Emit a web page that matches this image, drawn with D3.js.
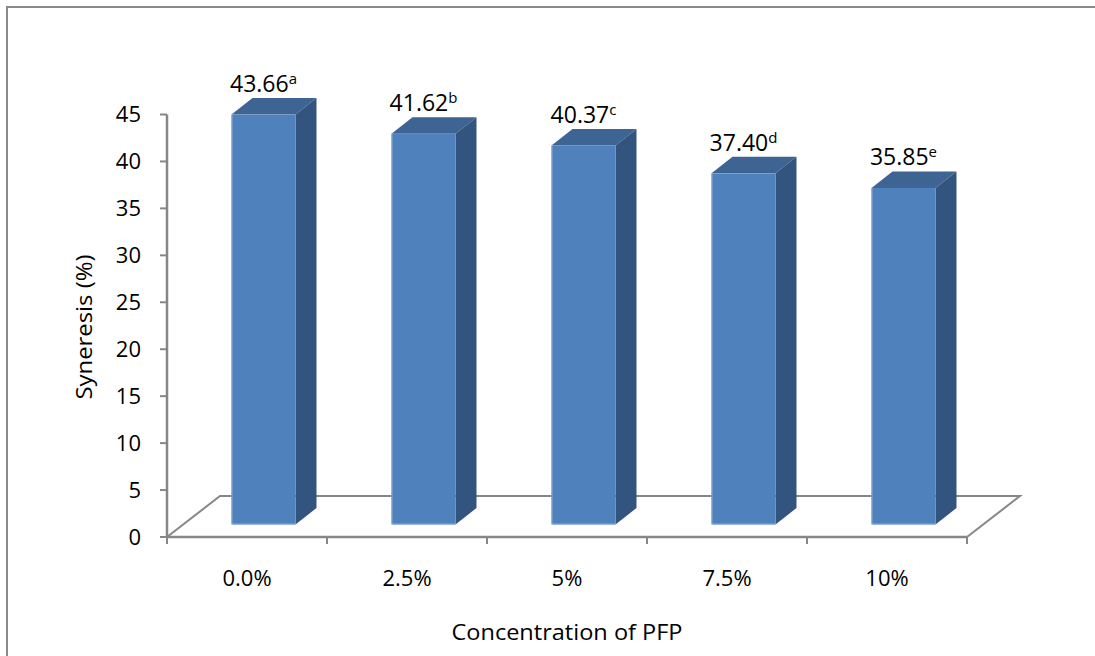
<!DOCTYPE html>
<html>
<head>
<meta charset="utf-8">
<script src="https://cdn.jsdelivr.net/npm/d3@7/dist/d3.min.js"></script>
<style>
  html, body { margin: 0; padding: 0; background: #fff; overflow: hidden; }
  svg { display: block; }
</style>
</head>
<body>
<svg id="chart" width="1095" height="656"></svg>
<script>
// Syneresis of samples by PFP concentration
const categories = ["0.0%", "2.5%", "5%", "7.5%", "10%"];
const syneresis = [43.66, 41.62, 40.37, 37.40, 35.85];
const significance = ["a", "b", "c", "d", "e"];
const yTickValues = [0, 5, 10, 15, 20, 25, 30, 35, 40, 45];

const svg = d3.select("#chart");

// plot geometry (oblique 3D floor)
const left = 167, right = 967, base = 537;
const floorDepth = { dx: 53, dy: -41 };   // front edge -> back edge of floor
const barFront = { dx: 16.5, dy: -12.5 }; // floor front -> bar front face
const barDepth = { dx: 21, dy: -16.5 };   // bar front face -> bar back face

const axisGray = "#878787";
const colFront = "#4F81BD", colTop = "#3D6493", colSide = "#32547E";
const numFont = "'Open Sans', 'DejaVu Sans', sans-serif";
const titleFont = "'Open Sans', 'Liberation Sans', sans-serif";

const y = d3.scaleLinear().domain([0, 45]).range([base, 114.5]);
const x = d3.scaleBand().domain(categories).range([left, right])
  .paddingInner(0.6).paddingOuter(0.3);
const xCell = d3.scaleBand().domain(categories).range([left, right]).padding(0);

// outer frame (only top and left edges fall inside the view)
svg.append("rect")
  .attr("x", 7).attr("y", 7).attr("width", 1200).attr("height", 800)
  .attr("fill", "none").attr("stroke", "#8a8a8a").attr("stroke-width", 2);

// floor
const floor = svg.append("g").attr("fill", "none").attr("stroke", axisGray).attr("stroke-width", 2);
floor.append("path").attr("d", d3.line()([
  [left, base],
  [left + floorDepth.dx, base + floorDepth.dy],
  [right + floorDepth.dx, base + floorDepth.dy],
  [right, base]
]));
svg.append("line").attr("x1", left).attr("x2", right).attr("y1", base).attr("y2", base)
  .attr("stroke", axisGray).attr("stroke-width", 2.5);

// category tick marks along the front edge
const xTickPos = categories.map(c => xCell(c)).concat([right]);
svg.append("g").selectAll("line").data(xTickPos).join("line")
  .attr("x1", d => d).attr("x2", d => d)
  .attr("y1", base).attr("y2", base + 7)
  .attr("stroke", axisGray).attr("stroke-width", 2);

// value axis
svg.append("line").attr("x1", left).attr("x2", left)
  .attr("y1", y(45)).attr("y2", base)
  .attr("stroke", axisGray).attr("stroke-width", 2.5);
const yTicks = svg.append("g");
yTicks.selectAll("line").data(yTickValues).join("line")
  .attr("x1", left - 7).attr("x2", left)
  .attr("y1", d => y(d)).attr("y2", d => y(d))
  .attr("stroke", axisGray).attr("stroke-width", 2);
yTicks.selectAll("text").data(yTickValues).join("text")
  .attr("x", 141).attr("y", d => y(d)).attr("dy", "0.36em")
  .attr("text-anchor", "end")
  .attr("font-family", numFont).attr("font-size", 22).attr("fill", "#000")
  .text(d => d);

// bars
const bars = svg.append("g").selectAll("g")
  .data(categories.map((c, i) => ({ c, v: syneresis[i], s: significance[i] })))
  .join("g");

const fx = d => x(d.c) + barFront.dx;
const fy0 = base + barFront.dy;
const fy1 = d => y(d.v) + barFront.dy;
const w = x.bandwidth();

// top face
bars.append("path").attr("fill", colTop)
  .attr("d", d => d3.line()([
    [fx(d), fy1(d)],
    [fx(d) + barDepth.dx, fy1(d) + barDepth.dy],
    [fx(d) + w + barDepth.dx, fy1(d) + barDepth.dy],
    [fx(d) + w, fy1(d)]
  ]) + "Z");
// side face
bars.append("path").attr("fill", colSide)
  .attr("d", d => d3.line()([
    [fx(d) + w, fy1(d)],
    [fx(d) + w + barDepth.dx, fy1(d) + barDepth.dy],
    [fx(d) + w + barDepth.dx, fy0 + barDepth.dy],
    [fx(d) + w, fy0]
  ]) + "Z");
// front face
bars.append("rect").attr("fill", colFront)
  .attr("x", fx).attr("y", fy1)
  .attr("width", w).attr("height", d => fy0 - fy1(d));
// light edge on left and bottom of the front face
bars.append("path").attr("fill", "none").attr("stroke", "#8CACD6").attr("stroke-width", 1)
  .attr("d", d => `M${fx(d) + 0.5},${fy1(d)} V${fy0 - 0.5} H${fx(d) + w}`);

// value labels with significance letters
const labels = bars.append("text")
  .attr("x", d => fx(d) + w / 2)
  .attr("y", d => fy1(d) + barDepth.dy - 6)
  .attr("text-anchor", "middle")
  .attr("font-family", numFont).attr("font-size", 23).attr("fill", "#000");
labels.append("tspan").text(d => d3.format(".2f")(d.v));
labels.append("tspan").attr("dy", -8).attr("font-size", 15).text(d => d.s);

// category labels
svg.append("g").selectAll("text").data(categories).join("text")
  .attr("x", d => xCell(d) + xCell.bandwidth() / 2)
  .attr("y", 586)
  .attr("text-anchor", "middle")
  .attr("font-family", numFont).attr("font-size", 22).attr("fill", "#000")
  .text(d => d);

// axis titles
svg.append("text")
  .attr("x", (left + right) / 2).attr("y", 640)
  .attr("text-anchor", "middle")
  .attr("font-family", titleFont).attr("font-size", 21).attr("fill", "#000")
  .attr("textLength", 231).attr("lengthAdjust", "spacingAndGlyphs")
  .text("Concentration of PFP");

svg.append("text")
  .attr("transform", "translate(92,327) rotate(-90)")
  .attr("text-anchor", "middle")
  .attr("font-family", titleFont).attr("font-size", 21).attr("fill", "#000")
  .attr("textLength", 145).attr("lengthAdjust", "spacingAndGlyphs")
  .text("Syneresis (%)");
</script>
</body>
</html>
